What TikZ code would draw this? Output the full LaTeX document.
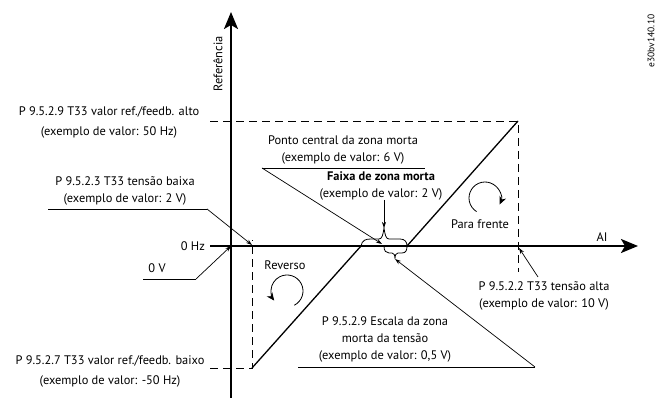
\documentclass[tikz,border=0pt]{standalone}
\usepackage{fontspec}
\setmainfont{PT Sans}
\usetikzlibrary{arrows.meta}
\tikzset{
  axis/.style={-{Stealth[length=17pt, width=14pt, inset=4pt]}, line width=2pt},
  guide/.style={dash pattern=on 8pt off 5pt, line width=0.9pt},
  curve/.style={line width=1.3pt},
  brace/.style={line width=0.8pt},
  leader/.style={-{Stealth[length=6pt, width=4pt]}, line width=0.7pt},
  underline/.style={line width=0.7pt},
  rotor/.style={-{Stealth[length=8pt, width=7pt]}, line width=0.8pt},
  label/.style={font=\fontsize{12.4}{17}\selectfont, align=center, inner sep=0pt}
}

\begin{document}
\begin{tikzpicture}[x=1pt, y=-1pt]
  \useasboundingbox (0,0) rectangle (657,403);

  % Reference points
  \coordinate (origin) at (231,246);
  \coordinate (ybot)   at (231,398);
  \coordinate (ytop)   at (231,12);
  \coordinate (xleft)  at (210,246);
  \coordinate (xright) at (638,246);
  \coordinate (hi)   at (518,121);
  \coordinate (hiL)  at (210,121);
  \coordinate (hiB)  at (518,272);
  \coordinate (lo)   at (252,368);
  \coordinate (loL)  at (210,368);
  \coordinate (loT)  at (252,240);
  \coordinate (dzL)  at (361,246);
  \coordinate (dzC)  at (384,246);
  \coordinate (dzR)  at (407,246);
  \coordinate (bandTip)  at (384,228);
  \coordinate (scaleTip) at (395,259);
  \coordinate (centerPt) at (382,244);
  \coordinate (lowVpt)   at (252,245);
  \coordinate (highVpt)  at (519,248);

  % Axes
  \draw[axis] (ybot) -- (ytop);
  \draw[axis] (xleft) -- (xright);
  \node[label, rotate=90] (ref) at (218,64) {Referência};
  \node[label] (ai) at (602,237) {AI};

  % Limits
  \draw[guide] (hiL) -- (hi) -- (hiB);
  \draw[guide] (loL) -- (lo) -- (loT);

  % Characteristic
  \draw[curve] (lo) -- (dzL) -- (dzR) -- (hi);

  % Dead zone braces
  \draw[brace] (dzL) .. controls (362,240) and (366,239) .. (371,239) -- (379,239)
    .. controls (382,239) and (383,235) .. (bandTip)
    .. controls (385,235) and (386,239) .. (389,239) -- (400,239)
    .. controls (405,239) and (407,242) .. (dzR);
  \draw[brace] (dzC) .. controls (384,251) and (386,253) .. (389,253) -- (392,253)
    .. controls (394,253) and (395,255) .. (scaleTip)
    .. controls (395,255) and (396,253) .. (398,253) -- (402,253)
    .. controls (406,253) and (407,250) .. (dzR);

  % Left labels
  \node[label] (refHi) at (109,122)
    {P 9.5.2.9 T33 valor ref./feedb. alto\\[3pt](exemplo de valor: 50 Hz)};
  \node[label] (refLo) at (110,371)
    {P 9.5.2.7 T33 valor ref./feedb. baixo\\[3pt](exemplo de valor: -50 Hz)};
  \node[label, anchor=east] (zeroHz) at (205,246) {0 Hz};

  \node[label] (lowV) at (125,191)
    {P 9.5.2.3 T33 tensão baixa\\(exemplo de valor: 2 V)};
  \coordinate (lowVa) at (48,209);
  \coordinate (lowVb) at (207,209);
  \draw[underline] (lowVa) -- (lowVb);
  \draw[leader] (lowVb) -- (lowVpt);

  \node[label] (zeroV) at (157,268) {0 V};
  \coordinate (zeroVa) at (143,279);
  \coordinate (zeroVb) at (196,279);
  \draw[underline] (zeroVa) -- (zeroVb);
  \draw[leader] (zeroVb) -- (origin);

  % Dead zone labels
  \node[label] (center) at (343,150)
    {Ponto central da zona morta\\(exemplo de valor: 6 V)};
  \coordinate (centera) at (262,168);
  \coordinate (centerb) at (425,168);
  \draw[underline] (centera) -- (centerb);
  \draw[leader] (centera) -- (centerPt);

  \node[label] (band) at (381,186)
    {\textbf{Faixa de zona morta}\\(exemplo de valor: 2 V)};
  \coordinate (banda) at (384,200);
  \draw[leader] (banda) -- (bandTip);

  \node[label] (scale) at (385,339)
    {P 9.5.2.9 Escala da zona\\morta da tensão\\(exemplo de valor: 0,5 V)};
  \coordinate (scalea) at (298,367);
  \coordinate (scaleb) at (535,367);
  \draw[underline] (scalea) -- (scaleb);
  \draw[leader] (scaleb) -- (scaleTip);

  % Right label
  \node[label] (highV) at (544,296)
    {P 9.5.2.2 T33 tensão alta\\(exemplo de valor: 10 V)};
  \coordinate (highVa) at (538,277);
  \draw[leader] (highVa) -- (highVpt);

  % Rotation
  \coordinate (fwdC) at (485,198);
  \draw[rotor] ([shift={(238:16pt)}]fwdC) arc[start angle=238, end angle=-24, radius=16pt];
  \node[label] (fwd) at (480,224) {Para frente};
  \coordinate (revC) at (287,291);
  \draw[rotor] ([shift={(-63:16pt)}]revC) arc[start angle=-63, end angle=217, radius=16pt];
  \node[label] (rev) at (285,265) {Reverso};

  \node[label, rotate=90, font=\fontsize{9.5}{11}\selectfont] (code) at (651,41) {e30bv140.10};
\end{tikzpicture}
\end{document}
